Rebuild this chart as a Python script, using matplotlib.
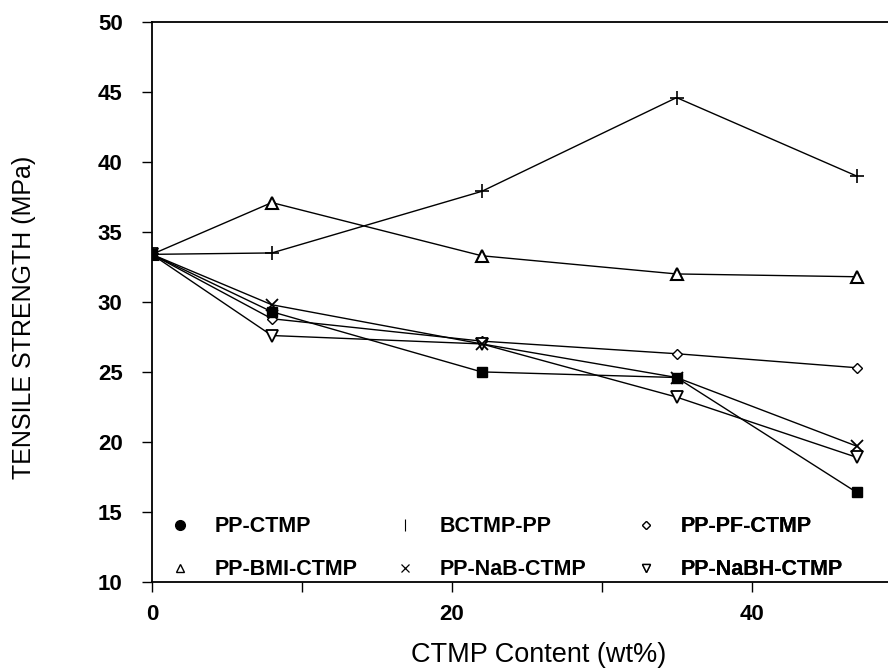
import matplotlib
matplotlib.use('Agg')
import matplotlib.pyplot as plt
from matplotlib.lines import Line2D

plt.rcParams['font.family'] = ['Liberation Sans', 'DejaVu Sans']

# CTMP content (wt%)
ctmp = [0, 8, 22, 35, 47]

# tensile strength (MPa)
pp_ctmp = [33.4, 29.3, 25.0, 24.6, 16.4]
bctmp_pp = [33.4, 33.5, 37.9, 44.6, 39.0]
pp_pf = [33.4, 28.8, 27.2, 26.3, 25.3]
pp_bmi = [33.4, 37.1, 33.3, 32.0, 31.8]
pp_nab = [33.4, 29.8, 27.0, 24.6, 19.7]
pp_nabh = [33.4, 27.6, 27.0, 23.2, 18.9]

fig = plt.figure(figsize=(8.88, 6.68), dpi=100)
ax = fig.add_axes([0.171, 0.129, 0.829, 0.838])

lw = 1.0
ax.plot(ctmp, pp_pf, color='k', lw=lw, marker='D', ms=5, mfc='white', mec='k', mew=1.0)
ax.plot(ctmp, pp_nabh, color='k', lw=lw, marker='v', ms=8, mfc='white', mec='k', mew=1.3)
ax.plot(ctmp, pp_nab, color='k', lw=lw, marker='x', ms=8, mec='k', mew=1.3)
ax.plot(ctmp, pp_bmi, color='k', lw=lw, marker='^', ms=8, mfc='white', mec='k', mew=1.5)
ax.plot(ctmp, bctmp_pp, color='k', lw=lw, marker='+', ms=10, mec='k', mew=1.2)
ax.plot(ctmp, pp_ctmp, color='k', lw=lw, marker='s', ms=7, mfc='k', mec='k')

ax.set_xlim(0, 49.1)
ax.set_ylim(10, 50)
ax.set_yticks(range(10, 51, 5))
ax.set_xticks([0, 20, 40])
ax.set_xticks([10, 30], minor=True)
ax.tick_params(axis='both', which='both', direction='out', length=7, width=1.0, labelsize=16)
ax.tick_params(axis='y', pad=14)
ax.tick_params(axis='x', pad=9)
for lab in ax.get_xticklabels() + ax.get_yticklabels():
    lab.set_fontweight('bold')

ax.spines['right'].set_visible(False)
for s in ['left', 'bottom', 'top']:
    ax.spines[s].set_linewidth(1.3)

ax.set_xlabel('CTMP Content (wt%)', fontsize=19.5, va='center')
ax.xaxis.set_label_coords(0.526, -0.13)
ax.set_ylabel('TENSILE STRENGTH (MPa)', fontsize=18, va='center')
ax.yaxis.set_label_coords(-0.174, 0.473)

# legend: three one-column legends, two rows each
hs = {
    'PP-CTMP': Line2D([], [], ls='none', marker='o', ms=7, mfc='k', mec='k'),
    'BCTMP-PP': Line2D([], [], ls='none', marker='|', ms=8, mec='k', mew=0.8),
    'PP-PF-CTMP': Line2D([], [], ls='none', marker='D', ms=4.5, mfc='white', mec='k', mew=0.9),
    'PP-BMI-CTMP': Line2D([], [], ls='none', marker='^', ms=5.5, mfc='white', mec='k', mew=1.0),
    'PP-NaB-CTMP': Line2D([], [], ls='none', marker='x', ms=6, mec='k', mew=0.9),
    'PP-NaBH-CTMP': Line2D([], [], ls='none', marker='v', ms=5.5, mfc='white', mec='k', mew=1.0),
}
columns = [['PP-CTMP', 'PP-BMI-CTMP'], ['BCTMP-PP', 'PP-NaB-CTMP'], ['PP-PF-CTMP', 'PP-NaBH-CTMP']]
col_x = [0.0235, 0.329, 0.656]
for names, x in zip(columns, col_x):
    leg = ax.legend([hs[n] for n in names], names, loc='center left',
                    bbox_to_anchor=(x, 0.060), frameon=False,
                    prop={'size': 15.5, 'weight': 'bold'},
                    handlelength=1.0, handletextpad=1.13,
                    labelspacing=1.04, borderaxespad=0, borderpad=0)
    ax.add_artist(leg)

fig.savefig('out.png', dpi=100)
